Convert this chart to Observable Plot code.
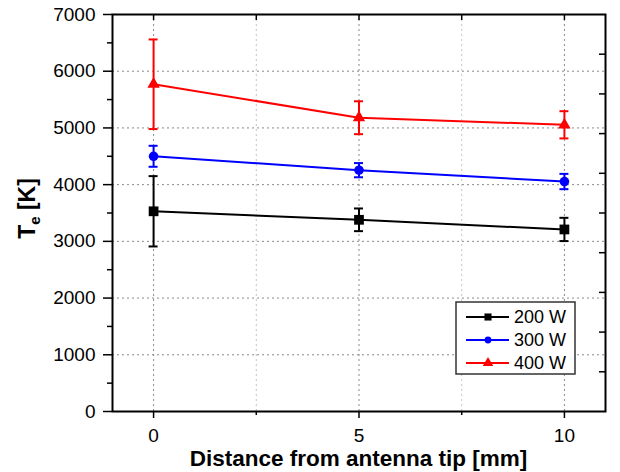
<!DOCTYPE html>
<html><head><meta charset="utf-8">
<script src="https://cdn.jsdelivr.net/npm/d3@7"></script>
<script src="https://cdn.jsdelivr.net/npm/@observablehq/plot@0.6"></script>
<style>
body{margin:0;background:#fff;}
#chart{position:relative;width:620px;height:472px;}
</style></head><body><div id="chart"></div>
<script>
// ---- data ----
const distances = [0, 5, 10];
const seriesNames = ["200 W", "300 W", "400 W"];
const te200 = [3530, 3380, 3210];
const err200 = [620, 200, 205];
const te300 = [4500, 4255, 4055];
const err300 = [185, 125, 135];
const te400 = [5770, 5180, 5055];
const err400 = [790, 290, 240];
const yTicks = [0, 1000, 2000, 3000, 4000, 5000, 6000, 7000];
const yMinorTicks = [500, 1500, 2500, 3500, 4500, 5500, 6500];
const yRightTicks = [700, 1400, 2100, 2800, 3500, 4200, 4900, 5600, 6300];
const xTicks = [0, 5, 10];
const xMinorTicks = [2.5, 7.5];
const xLabel = "Distance from antenna tip [mm]";

// ---- styles ----
const colors = ["#000000", "#0000ff", "#ff0000"];
const symbols = ["square", "circle", "triangle"];
const dotR = [5.5, 4.8, 4.6];
const FONT = "'Liberation Sans', Arial, sans-serif";

const vals = [te200, te300, te400];
const errs = [err200, err300, err400];
const rows = [];
vals.forEach((v, s) => distances.forEach((d, i) => rows.push({
  series: seriesNames[s], x: d, y: v[i], lo: v[i] - errs[s][i], hi: v[i] + errs[s][i]
})));

const grid = {strokeOpacity: 1, strokeDasharray: "2,3", strokeWidth: 1};
const blank = () => "";
const plain = d3.format("d");

const plot = Plot.plot({
  width: 620, height: 472,
  marginLeft: 112, marginRight: 15, marginTop: 14, marginBottom: 61,
  style: {fontFamily: FONT, fontSize: "19px", color: "#000", background: "#fff"},
  x: {domain: [-1, 11], label: null},
  y: {domain: [0, 7000], label: null},
  color: {domain: seriesNames, range: colors},
  symbol: {domain: seriesNames, range: symbols},
  marks: [
    Plot.gridX(xMinorTicks, {...grid, stroke: "#c4c4c4"}),
    Plot.gridX(xTicks, {...grid, stroke: "#8a8a8a"}),
    Plot.gridY(yTicks.slice(1, -1), {...grid, stroke: "#8a8a8a"}),
    Plot.axisY(yTicks, {anchor: "left", tickSize: 9, tickPadding: 8, fontSize: 19, tickFormat: plain, strokeWidth: 1.5, label: null}),
    Plot.axisY(yMinorTicks, {anchor: "left", tickSize: 5, tickFormat: blank, strokeWidth: 1.5, label: null}),
    Plot.axisY(yRightTicks, {anchor: "right", tickSize: 7, dx: -7, tickFormat: blank, strokeWidth: 1.5, label: null}),
    Plot.axisX(xTicks, {anchor: "bottom", tickSize: 7, tickPadding: 10, fontSize: 19, tickFormat: plain, strokeWidth: 1.5, label: null}),
    Plot.axisX(xMinorTicks, {anchor: "bottom", tickSize: 4, tickFormat: blank, strokeWidth: 1.5, label: null}),
    Plot.axisX([...xTicks, ...xMinorTicks], {anchor: "top", tickSize: 5, dy: 5, tickFormat: blank, strokeWidth: 1.5, label: null}),
    Plot.ruleX(rows, {x: "x", y1: "lo", y2: "hi", stroke: "series", strokeWidth: 2}),
    Plot.ruleY(rows, {y: "hi", x1: "x", x2: "x", insetLeft: -4.5, insetRight: -4.5, stroke: "series", strokeWidth: 2}),
    Plot.ruleY(rows, {y: "lo", x1: "x", x2: "x", insetLeft: -4.5, insetRight: -4.5, stroke: "series", strokeWidth: 2}),
    Plot.line(rows, {x: "x", y: "y", z: "series", stroke: "series", strokeWidth: 2}),
    ...seriesNames.map((s, k) => Plot.dot(rows, {filter: d => d.series === s, x: "x", y: "y", symbol: "series", fill: "series", stroke: "none", r: dotR[k]})),
    Plot.frame({stroke: "#000", strokeWidth: 2})
  ]
});

const svg = d3.select(plot);
const xs = plot.scale("x"), ys = plot.scale("y");
const xc = (xs.range[0] + xs.range[1]) / 2;
const yc = (ys.range[0] + ys.range[1]) / 2;

// x title
svg.append("text").attr("x", xc).attr("y", 466).attr("text-anchor", "middle")
  .attr("font-family", FONT).attr("font-weight", "bold").attr("font-size", 22.5).attr("fill", "#000")
  .text(xLabel);

// y title  T_e [K]
const yt = svg.append("text").attr("transform", `translate(35,${yc - 4}) rotate(-90)`)
  .attr("text-anchor", "middle").attr("font-family", FONT).attr("font-weight", "bold")
  .attr("font-size", 23).attr("fill", "#000");
yt.append("tspan").text("T");
yt.append("tspan").attr("font-size", 15).attr("dy", 5).text("e");
yt.append("tspan").attr("dy", -5).text(" [K]");

// legend
const lg = svg.append("g");
lg.append("rect").attr("x", 456).attr("y", 302).attr("width", 119).attr("height", 72)
  .attr("fill", "#fff").attr("stroke", "#333").attr("stroke-width", 1.5);
const legSym = [d3.symbolSquare, d3.symbolCircle, d3.symbolTriangle];
const legSize = [50, 36, 48];
seriesNames.forEach((s, k) => {
  const y = 317 + k * 23;
  lg.append("line").attr("x1", 466).attr("x2", 509).attr("y1", y).attr("y2", y)
    .attr("stroke", colors[k]).attr("stroke-width", 2);
  lg.append("path").attr("d", d3.symbol(legSym[k], legSize[k])()).attr("transform", `translate(488,${y})`)
    .attr("fill", colors[k]);
  lg.append("text").attr("x", 514).attr("y", y).attr("dy", "0.36em").attr("text-anchor", "start")
    .attr("font-family", FONT).attr("font-size", 18).attr("fill", "#000").text(s);
});

document.getElementById("chart").appendChild(plot);
</script></body></html>
